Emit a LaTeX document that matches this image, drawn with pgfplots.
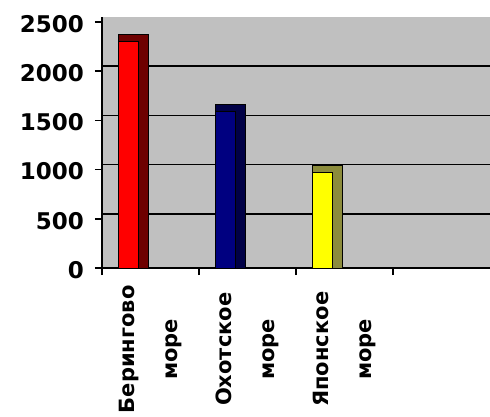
\documentclass[border=0pt]{standalone}
\usepackage{pgfplots}
\pgfplotsset{compat=1.18}
\usepackage{fontspec}
\setmainfont{DejaVu Sans}
\definecolor{wall}{RGB}{192,192,192}
\definecolor{redF}{RGB}{255,0,0}
\definecolor{redS}{RGB}{110,0,0}
\definecolor{blueF}{RGB}{0,0,128}
\definecolor{blueS}{RGB}{0,0,70}
\definecolor{yelF}{RGB}{255,255,0}
\definecolor{yelS}{RGB}{140,140,60}
\begin{document}
\begin{tikzpicture}
\useasboundingbox (-102pt,-148pt) rectangle (388pt,268pt);
\clip (-102pt,-148pt) rectangle (388pt,268pt);
\begin{axis}[
    at={(0pt,0pt)}, anchor=south west,
    scale only axis, width=388pt, height=251pt,
    xmin=0, xmax=4, ymin=0, ymax=2551,
    axis lines*=left,
    axis line style={black, line width=1.6pt},
    axis background/.style={fill=wall},
    xtick={0,1,2,3}, xticklabels={},
    ytick={0,500,...,2500},
    tick align=outside, major tick length=7pt,
    tick style={black, line width=1.6pt},
    yticklabel style={font=\fontsize{23}{23}\selectfont\bfseries, inner sep=0pt, anchor=east, xshift=-11pt, yshift=-2pt},
    /pgf/number format/assume math mode=true,
    /pgf/number format/1000 sep={},
    extra x ticks={0.5,1.5,2.5},
    extra x tick labels={Берингово\\море, Охотское\\море, Японское\\море},
    extra x tick style={major tick length=0pt,
        xticklabel style={rotate=90, anchor=east, text width=158pt, align=center,
            inner sep=0pt, font=\fontsize{21}{43}\selectfont\bfseries, xshift=-2pt}},
    extra y ticks={500,1000,1500,2000},
    extra y tick labels={},
    extra y tick style={major tick length=0pt, grid=major,
        major grid style={black, line width=1.6pt, yshift=5pt}},
    ybar,
]
% dark side and top of each 3D column
\addplot[fill=redS, draw=black, line width=0.8pt, bar width=30pt, bar shift=-17.5pt, y filter/.expression={y+71}] coordinates {(0.5,2300)};
\addplot[fill=redF, draw=black, line width=0.8pt, bar width=20pt, bar shift=-22.5pt] coordinates {(0.5,2300)};
\addplot[fill=blueS, draw=black, line width=0.8pt, bar width=30pt, bar shift=-17.5pt, y filter/.expression={y+71}] coordinates {(1.5,1590)};
\addplot[fill=blueF, draw=black, line width=0.8pt, bar width=20pt, bar shift=-22.5pt] coordinates {(1.5,1590)};
\addplot[fill=yelS, draw=black, line width=0.8pt, bar width=30pt, bar shift=-17.5pt, y filter/.expression={y+71}] coordinates {(2.5,970)};
\addplot[fill=yelF, draw=black, line width=0.8pt, bar width=20pt, bar shift=-22.5pt] coordinates {(2.5,970)};
\end{axis}
\end{tikzpicture}
\end{document}
